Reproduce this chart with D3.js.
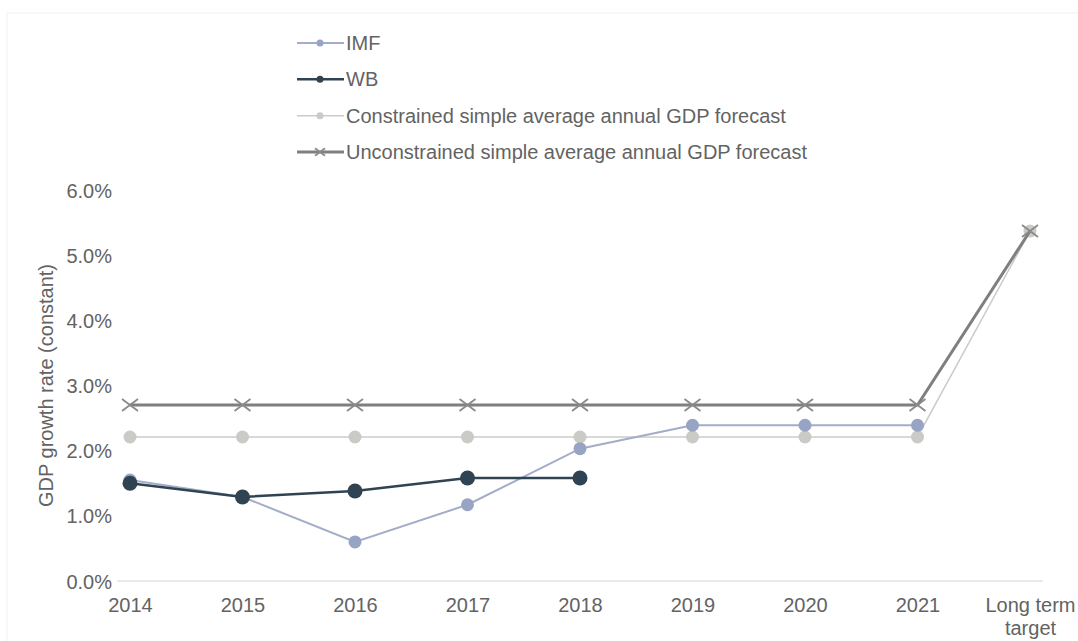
<!doctype html>
<html>
<head>
<meta charset="utf-8" />
<title>GDP growth forecasts</title>
<script src="https://cdn.jsdelivr.net/npm/d3@7"></script>
<style>
  html,body{margin:0;background:#fff}
  svg{display:block;font-family:"Liberation Sans", Arial, sans-serif}
  .tick text{fill:#636363;font-size:20px}
  .legend text{fill:#636363;font-size:20px}
</style>
</head>
<body>
<svg id="chart" width="1078" height="641"></svg>
<script>
// categories and series (GDP growth, %)
const categories = ["2014","2015","2016","2017","2018","2019","2020","2021","Long term target"];
const imf           = [1.55, 1.29, 0.60, 1.17, 2.03, 2.39, 2.39, 2.39, null];
const wb            = [1.50, 1.29, 1.38, 1.58, 1.58, null, null, null, null];
const constrained   = [2.21, 2.21, 2.21, 2.21, 2.21, 2.21, 2.21, 2.21, 5.37];
const unconstrained = [2.70, 2.70, 2.70, 2.70, 2.70, 2.70, 2.70, 2.70, 5.37];
const yTicks = [0, 1, 2, 3, 4, 5, 6];

const series = [
  {name:"IMF", values:imf, color:"#a3adc9", marker:"#98a4c4", width:2, kind:"circle", r:6.5},
  {name:"WB", values:wb, color:"#2f4352", marker:"#2f4352", width:2.5, kind:"circle", r:7.5},
  {name:"Constrained simple average annual GDP forecast", values:constrained, color:"#cbcbcb", marker:"#cacac6", width:1.5, kind:"circle", r:6.5},
  {name:"Unconstrained simple average annual GDP forecast", values:unconstrained, color:"#7f7f7f", marker:"#8a8a8a", width:3, kind:"x", r:8}
];

const svg = d3.select("#chart");
const x = d3.scalePoint().domain(categories).range([130, 1030]);
const y = d3.scaleLinear().domain([0, 6]).range([581, 190]);

// faint chart border
svg.append("rect").attr("x", 7).attr("y", 13).attr("width", 1080).attr("height", 640)
  .attr("fill", "none").attr("stroke", "#f2f2f2");

// y axis (labels only)
const yAxis = svg.append("g")
  .attr("transform", "translate(112,0)")
  .call(d3.axisLeft(y).tickValues(yTicks).tickFormat(d => d.toFixed(1) + "%").tickSize(0).tickPadding(0));
yAxis.select(".domain").remove();
yAxis.selectAll("text").attr("dy", "0.35em");

// x axis line + labels
svg.append("line")
  .attr("x1", 117).attr("x2", 1043)
  .attr("y1", y(0)).attr("y2", y(0))
  .attr("stroke", "#e3e3e3").attr("stroke-width", 1.5);

const xAxis = svg.append("g")
  .attr("transform", `translate(0,${y(0)})`)
  .call(d3.axisBottom(x).tickSize(0).tickFormat(() => ""));
xAxis.select(".domain").remove();
xAxis.selectAll(".tick text").each(function(d){
  const t = d3.select(this);
  const words = d === "Long term target" ? ["Long term", "target"] : [d];
  t.attr("dy", null).attr("y", 31);
  words.forEach((w, i) => t.append("tspan").attr("x", 0).attr("dy", i ? 23 : 0).text(w));
});

// y axis title
svg.append("text")
  .attr("transform", `translate(53,${y(3.0)}) rotate(-90)`)
  .attr("text-anchor", "middle")
  .attr("fill", "#636363").style("font-size", "20px")
  .text("GDP growth rate (constant)");

const line = d3.line()
  .defined(d => d.v != null)
  .x(d => x(d.c)).y(d => y(d.v));

function drawMarker(g, s, cx, cy){
  if (s.kind === "x") {
    const r = s.r;
    g.append("path")
      .attr("d", `M${cx-r},${cy-r*0.75}L${cx+r},${cy+r*0.75}M${cx-r},${cy+r*0.75}L${cx+r},${cy-r*0.75}`)
      .attr("stroke", s.marker).attr("stroke-width", 1.8).attr("fill", "none");
  } else {
    g.append("circle").attr("cx", cx).attr("cy", cy).attr("r", s.r).attr("fill", s.marker);
  }
}

// draw order: constrained, unconstrained, IMF, WB
const order = [2, 3, 0, 1];
order.forEach(i => {
  const s = series[i];
  const pts = categories.map((c, k) => ({c, v: s.values[k]}));
  const g = svg.append("g");
  g.append("path").attr("d", line(pts))
    .attr("fill", "none").attr("stroke", s.color).attr("stroke-width", s.width);
  pts.filter(p => p.v != null).forEach(p => drawMarker(g, s, x(p.c), y(p.v)));
});

// legend
const legend = svg.append("g").attr("class", "legend");
const legendY = d3.scalePoint().domain(series.map(s => s.name)).range([43, 152]);
series.forEach(s => {
  const ly = legendY(s.name);
  const g = legend.append("g");
  g.append("line").attr("x1", 297).attr("x2", 344).attr("y1", ly).attr("y2", ly)
    .attr("stroke", s.color).attr("stroke-width", s.width);
  drawMarker(g, {...s, r: s.kind === "x" ? 5 : 3.5}, 320, ly);
  g.append("text").attr("x", 346).attr("y", ly).attr("dy", "0.35em").text(s.name);
});
</script>
</body>
</html>
